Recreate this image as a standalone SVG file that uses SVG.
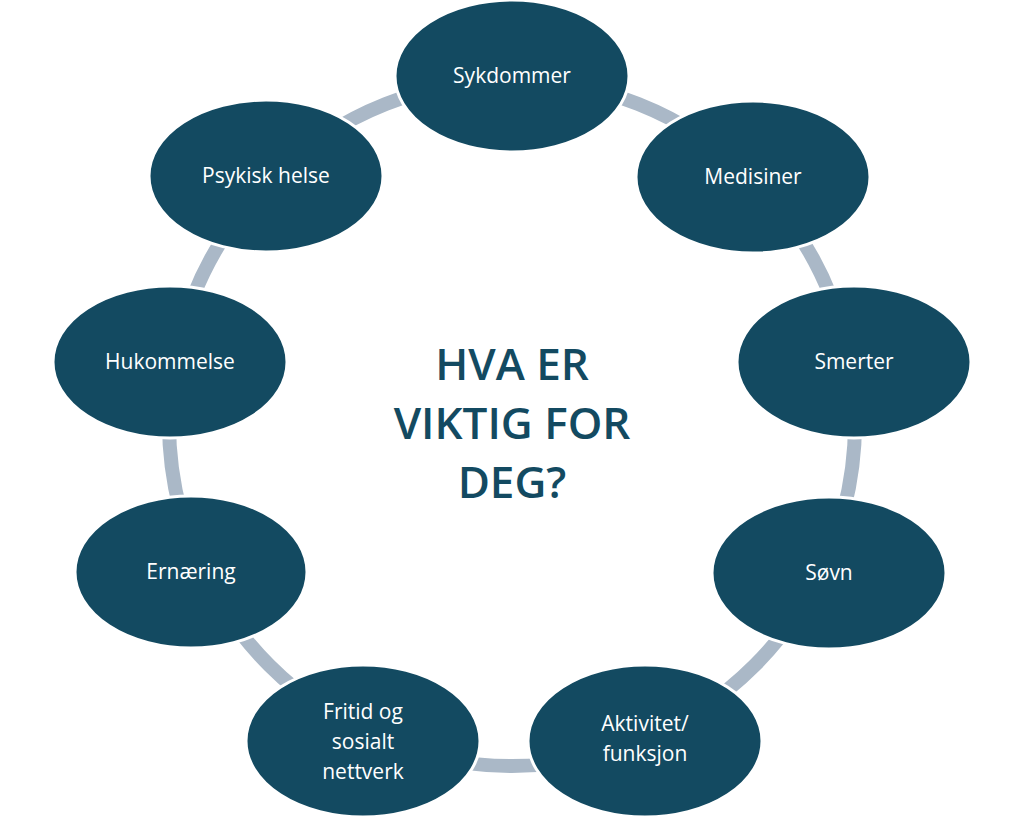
<svg xmlns="http://www.w3.org/2000/svg" width="1024" height="823" viewBox="0 0 1024 823">
<style>
.n{fill:#134a61;stroke:#fff;stroke-width:3}
.t{fill:#fff;font-family:"Open Sans","Noto Sans",sans-serif;font-size:21px;text-anchor:middle}
.h{fill:#134a61;font-family:"Open Sans","Noto Sans",sans-serif;font-size:44px;font-weight:600;text-anchor:middle}
</style>
<rect width="1024" height="823" fill="#fff"/>
<g id="connectors"><circle cx="512" cy="423" r="343" fill="none" stroke="#aab8c7" stroke-width="14"/></g>
<g id="n1"><ellipse class="n" cx="512" cy="76" rx="117" ry="76"/><text class="t" x="512" y="83">Sykdommer</text></g>
<g id="n2"><ellipse class="n" cx="753" cy="177" rx="117" ry="76"/><text class="t" x="753" y="184">Medisiner</text></g>
<g id="n3"><ellipse class="n" cx="854" cy="362" rx="117" ry="76"/><text class="t" x="854" y="369">Smerter</text></g>
<g id="n4"><ellipse class="n" cx="829" cy="573" rx="117" ry="76"/><text class="t" x="829" y="580">Søvn</text></g>
<g id="n5"><ellipse class="n" cx="645" cy="741" rx="117" ry="76"/><text class="t" x="645" y="731">Aktivitet/</text><text class="t" x="645" y="761">funksjon</text></g>
<g id="n6"><ellipse class="n" cx="363" cy="741" rx="117" ry="76"/><text class="t" x="363" y="719">Fritid og</text><text class="t" x="363" y="749">sosialt</text><text class="t" x="363" y="779">nettverk</text></g>
<g id="n7"><ellipse class="n" cx="191" cy="572" rx="116" ry="76"/><text class="t" x="191" y="579">Ernæring</text></g>
<g id="n8"><ellipse class="n" cx="170" cy="362" rx="117" ry="76"/><text class="t" x="170" y="369">Hukommelse</text></g>
<g id="n9"><ellipse class="n" cx="266" cy="176" rx="117" ry="76"/><text class="t" x="266" y="183">Psykisk helse</text></g>
<g id="title"><text class="h" x="512" y="380">HVA ER</text><text class="h" x="512" y="439">VIKTIG FOR</text><text class="h" x="512" y="498">DEG?</text></g>
</svg>
